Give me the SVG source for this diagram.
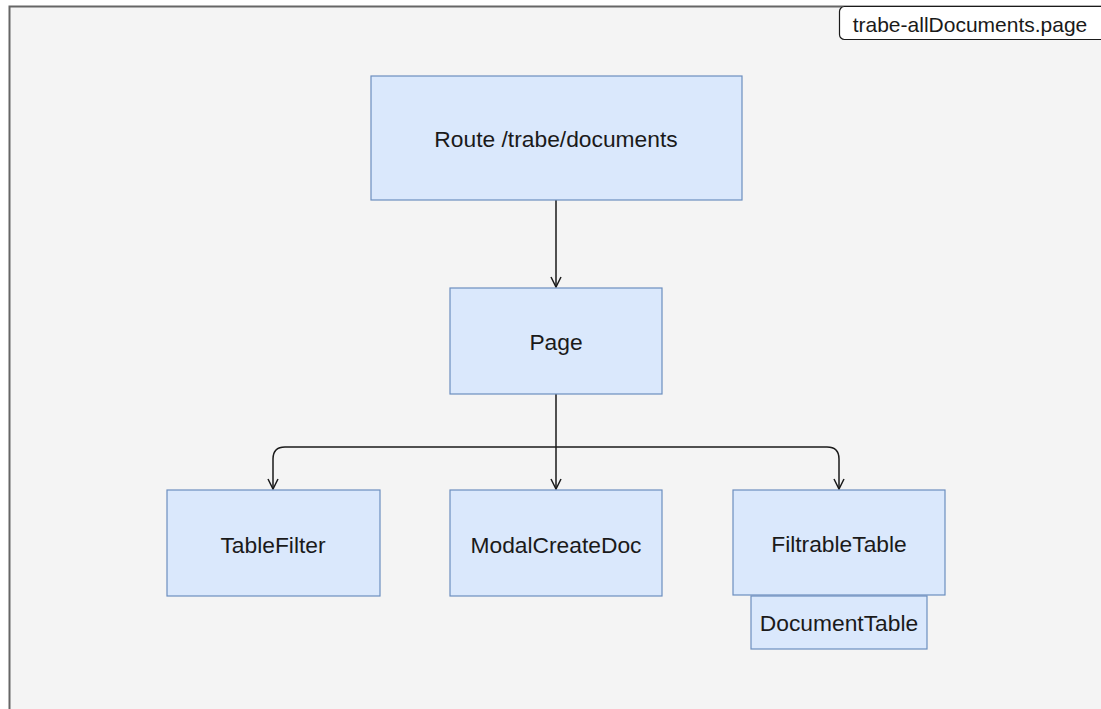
<svg xmlns="http://www.w3.org/2000/svg" width="1101" height="709" viewBox="0 0 1101 709">
  <style>
    .node { fill: #dae8fc; stroke: #6c8ebf; stroke-width: 1.2; }
    .label { font-family: "Liberation Sans", Arial, sans-serif; font-size: 22.8px; fill: #1a1a1a; text-anchor: middle; dominant-baseline: central; }
    .edge { fill: none; stroke: #1a1a1a; stroke-width: 1.5; }
  </style>
  <defs>
    <!-- open V arrowhead pointing along the path direction -->
    <marker id="open" viewBox="0 0 12 12" refX="11" refY="6" markerWidth="12" markerHeight="12" markerUnits="userSpaceOnUse" orient="auto">
      <path d="M1 1 L11 6 L1 11" fill="none" stroke="#1a1a1a" stroke-width="1.5"/>
    </marker>
  </defs>

  <!-- page background and container frame -->
  <rect x="0" y="0" width="1101" height="709" fill="#ffffff"/>
  <rect x="9.5" y="6.5" width="1110" height="720" fill="#f4f4f4" stroke="#666666" stroke-width="2"/>

  <g id="title">
    <rect x="839.5" y="6.5" width="280" height="33" rx="5" fill="#ffffff" stroke="#1a1a1a" stroke-width="1.2"/>
    <text x="970" y="24" class="label" style="font-size:21px">trabe-allDocuments.page</text>
  </g>

  <g id="connectors">
    <path class="edge" d="M556 200 V287" marker-end="url(#open)"/>
    <path class="edge" d="M556 394 V489" marker-end="url(#open)"/>
    <path class="edge" d="M556 447 H285 Q273 447 273 459 V489" marker-end="url(#open)"/>
    <path class="edge" d="M556 447 H827 Q839 447 839 459 V489" marker-end="url(#open)"/>
  </g>

  <g id="route">
    <rect class="node" x="371" y="76" width="371" height="124"/>
    <text class="label" x="556" y="139">Route /trabe/documents</text>
  </g>
  <g id="page">
    <rect class="node" x="450" y="288" width="212" height="106"/>
    <text class="label" x="556" y="342">Page</text>
  </g>
  <g id="tablefilter">
    <rect class="node" x="167" y="490" width="213" height="106"/>
    <text class="label" x="273" y="545">TableFilter</text>
  </g>
  <g id="modalcreatedoc">
    <rect class="node" x="450" y="490" width="212" height="106"/>
    <text class="label" x="556" y="545">ModalCreateDoc</text>
  </g>
  <g id="filtrabletable">
    <rect class="node" x="733" y="490" width="212" height="105"/>
    <text class="label" x="839" y="544">FiltrableTable</text>
  </g>
  <g id="documenttable">
    <rect class="node" x="751" y="596" width="176" height="53"/>
    <text class="label" x="839" y="623">DocumentTable</text>
  </g>
</svg>
